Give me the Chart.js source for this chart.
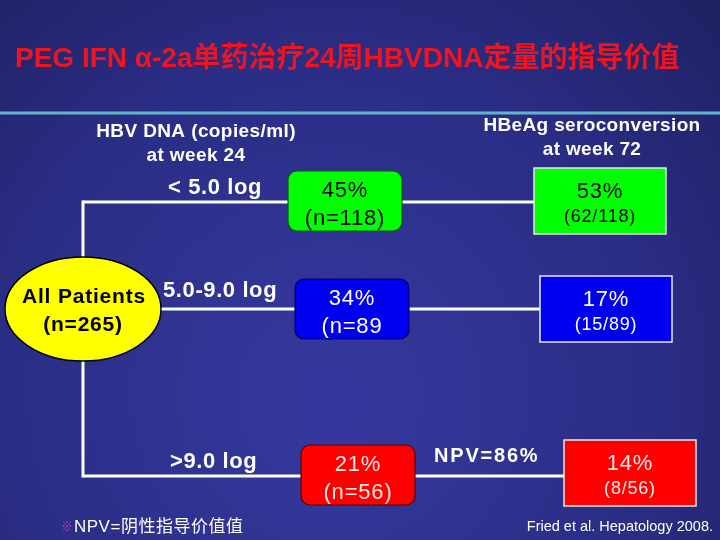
<!DOCTYPE html>
<html lang="zh">
<head>
  <meta charset="UTF-8">
  <title>PEG IFN α-2a 24周 HBV DNA</title>
  <script src="https://cdn.jsdelivr.net/npm/chart.js"></script>
  <style>
    * { margin: 0; padding: 0; box-sizing: border-box; }
    body { background: #23267a; }
    .wrap { position: relative; width: 720px; height: 540px; }
  </style>
</head>
<body>
  <div class="wrap"><canvas id="flow"></canvas></div>

  <script>
    // --- data ---
    const dnaGroups = ['< 5.0 log', '5.0-9.0 log', '>9.0 log'];
    const groupShare = [45, 34, 21];                  // % of all patients
    const groupNText = ['(n=118)', '(n=89', '(n=56)']; // as printed on the slide
    const seroRate = [53, 17, 14];                    // HBeAg seroconversion wk72, %
    const seroCount = [62, 15, 8];
    const groupN = [118, 89, 56];
    const totalN = 265;
    const npv = 86;

    // --- layout (in scale units, 0..720 x 0..540) ---
    const rowY = [202, 309, 476];
    const leftBoxX = [288, 295, 301];
    const leftBoxTop = [171, 279, 445];
    const rightBoxX = [534, 540, 564];
    const rightBoxTop = [168, 276, 440];
    const trunkX = 83;
    const fills = ['#00ff00', '#0000f0', '#ff0000'];
    const inks = ['#000000', '#ffffff', '#ffe8e8'];

    const FONT = '"Liberation Sans", Arial, "Noto Sans CJK SC", sans-serif';

    // connector lines go in as line datasets
    const seg = (x1, y1, x2, y2) => ({
      data: [{ x: x1, y: y1 }, { x: x2, y: y2 }],
      showLine: true,
      borderColor: '#ffffff',
      borderWidth: 3,
      pointRadius: 0,
      borderCapStyle: 'butt'
    });

    const datasets = [
      Object.assign(seg(0, 113, 720, 113), { borderColor: '#62b4cc' }),
      seg(trunkX, rowY[0] - 1.5, trunkX, rowY[2] + 1.5),
      seg(trunkX, rowY[0], leftBoxX[0], rowY[0]),
      seg(trunkX, rowY[1], leftBoxX[1], rowY[1]),
      seg(trunkX, rowY[2], leftBoxX[2], rowY[2])
    ];
    for (let i = 0; i < 3; i++) {
      datasets.push(seg(leftBoxX[i] + 114, rowY[i], rightBoxX[i], rowY[i]));
    }

    function txt(ctx, s, x, y, font, color, align, spacing) {
      ctx.font = font;
      ctx.fillStyle = color;
      ctx.textAlign = align || 'left';
      ctx.textBaseline = 'alphabetic';
      ctx.letterSpacing = (spacing || 0) + 'px';
      ctx.fillText(s, x, y);
    }

    const slide = {
      id: 'slide',
      beforeDraw(chart) {
        const { ctx, width, height } = chart;
        const g = ctx.createRadialGradient(330, 400, 40, 330, 370, 620);
        g.addColorStop(0, '#34389c');
        g.addColorStop(0.5, '#2a2d84');
        g.addColorStop(1, '#1a1c55');
        ctx.save();
        ctx.fillStyle = g;
        ctx.fillRect(0, 0, width, height);
        ctx.restore();
      },
      afterDatasetsDraw(chart) {
        const { ctx } = chart;
        const X = v => chart.scales.x.getPixelForValue(v);
        const Y = v => chart.scales.y.getPixelForValue(v);
        ctx.save();

        // title
        txt(ctx, 'PEG IFN α-2a单药治疗24周HBVDNA定量的指导价值', X(15), Y(67),
          'bold 28px ' + FONT, '#ee1520', 'left', 0);

        // column headers
        const hf = 'bold 19px ' + FONT;
        txt(ctx, 'HBV DNA (copies/ml)', X(196), Y(137), hf, '#ffffff', 'center', 0.4);
        txt(ctx, 'at week 24', X(196), Y(161), hf, '#ffffff', 'center', 0.4);
        txt(ctx, 'HBeAg seroconversion', X(592), Y(131), hf, '#ffffff', 'center', 0.35);
        txt(ctx, 'at week 72', X(592), Y(155), hf, '#ffffff', 'center', 0.35);

        // all patients ellipse
        ctx.beginPath();
        ctx.ellipse(X(trunkX), Y(rowY[1]), 78, 52, 0, 0, Math.PI * 2);
        ctx.fillStyle = '#ffff00';
        ctx.fill();
        ctx.lineWidth = 1.5;
        ctx.strokeStyle = '#000000';
        ctx.stroke();
        txt(ctx, 'All Patients', X(trunkX + 1), Y(303), 'bold 21px ' + FONT, '#000000', 'center', 0.8);
        txt(ctx, '(n=' + totalN + ')', X(trunkX), Y(331), 'bold 21px ' + FONT, '#000000', 'center', 0.8);

        // branch labels
        const lblX = [168, 163, 170];
        const lblY = [194, 297, 468];
        for (let i = 0; i < 3; i++) {
          txt(ctx, dnaGroups[i], X(lblX[i]), Y(lblY[i]), 'bold 22px ' + FONT, '#ffffff', 'left', 0.6);
        }

        for (let i = 0; i < 3; i++) {
          // week 24 group box (rounded)
          const lx = X(leftBoxX[i]), ly = Y(leftBoxTop[i]);
          ctx.beginPath();
          ctx.roundRect(lx, ly, 114, 60, 9);
          ctx.fillStyle = fills[i];
          ctx.fill();
          ctx.lineWidth = 1.2;
          ctx.strokeStyle = i === 0 ? '#145214' : (i === 1 ? '#000060' : '#600000');
          ctx.stroke();
          const cx = lx + 57;
          txt(ctx, groupShare[i] + '%', cx, ly + 26, '22px ' + FONT, inks[i], 'center', 0.8);
          txt(ctx, groupNText[i], cx, ly + 54, '22px ' + FONT, inks[i], 'center', 0.8);

          // week 72 seroconversion box
          const rx = X(rightBoxX[i]), ry = Y(rightBoxTop[i]);
          ctx.beginPath();
          ctx.rect(rx, ry, 132, 66);
          ctx.fillStyle = fills[i];
          ctx.fill();
          ctx.lineWidth = 1.5;
          ctx.strokeStyle = '#e8e8e8';
          ctx.stroke();
          const rcx = rx + 66;
          txt(ctx, seroRate[i] + '%', rcx, ry + 30, '22px ' + FONT, inks[i], 'center', 0.8);
          txt(ctx, '(' + seroCount[i] + '/' + groupN[i] + ')', rcx, ry + 54, '18px ' + FONT, inks[i], 'center', 0.8);
        }

        // NPV note
        txt(ctx, 'NPV=' + npv + '%', X(434), Y(462), 'bold 20px ' + FONT, '#ffffff', 'left', 1.8);

        // footnotes
        txt(ctx, '※', X(61), Y(531), '12px ' + FONT, '#c040c0', 'left', 0);
        txt(ctx, 'NPV=阴性指导价值值', X(74), Y(532), '17px ' + FONT, '#ffffff', 'left', 0.5);
        txt(ctx, 'Fried et al. Hepatology 2008.', X(713), Y(531), '14.5px ' + FONT, '#ffffff', 'right', 0);

        ctx.restore();
      }
    };

    new Chart(document.getElementById('flow'), {
      type: 'scatter',
      data: { datasets },
      options: {
        responsive: true,
        maintainAspectRatio: false,
        animation: false,
        events: [],
        layout: { padding: 0 },
        plugins: { legend: { display: false }, tooltip: { enabled: false } },
        scales: {
          x: { type: 'linear', min: 0, max: 720, display: false },
          y: { type: 'linear', min: 0, max: 540, reverse: true, display: false }
        }
      },
      plugins: [slide]
    });
  </script>
</body>
</html>
